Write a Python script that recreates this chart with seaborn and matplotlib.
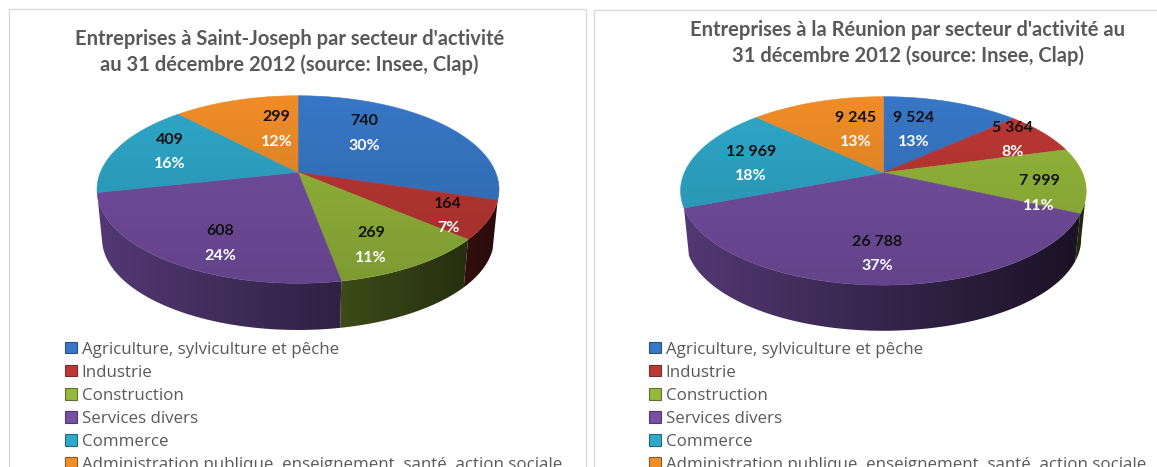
"""
Entreprises par secteur d'activite : Saint-Joseph et la Reunion, camemberts 3D
"""

import numpy as np
import matplotlib
matplotlib.use("Agg")
import matplotlib.pyplot as plt
from matplotlib.patches import Patch, Polygon, Rectangle
import seaborn as sns

secteurs = ["Agriculture, sylviculture et pêche", "Industrie", "Construction",
            "Services divers", "Commerce",
            "Administration publique, enseignement, santé, action sociale"]
couleurs = ["#3878C8", "#BE3835", "#96B93C", "#7650A4", "#2FA8CA", "#F28E28"]

titre_joseph = "Entreprises à Saint-Joseph par secteur d'activité\nau 31 décembre 2012 (source: Insee, Clap)"
valeurs_joseph = [740, 164, 269, 608, 409, 299]
textes_joseph = ["740", "164", "269", "608", "409", "299"]
pourcents_joseph = ["30%", "7%", "11%", "24%", "16%", "12%"]

titre_reunion = "Entreprises à la Réunion par secteur d'activité au\n31 décembre 2012 (source: Insee, Clap)"
valeurs_reunion = [9524, 5364, 7999, 26788, 12969, 9245]
textes_reunion = ["9 524", "5 364", "7 999", "26 788", "12 969", "9 245"]
pourcents_reunion = ["13%", "8%", "11%", "37%", "18%", "13%"]

# mise en page, en pixels de l'image
W, H = 1157, 467
pos_joseph = [(364, 121), (448, 204), (371, 233), (220, 231), (169.5, 140), (276.7, 117)]
pos_reunion = [(914, 118), (1013, 128), (1039, 181), (877, 241.7), (751, 151.7), (855.6, 118)]


def projeter(theta, cx, cy, a, b, k):
    # cercle incline vu en perspective
    u, v = np.cos(theta), np.sin(theta)
    w = 1 + k * v
    return cx + a * u / w, cy - b * v / w


def camembert(ax, valeurs, cx, cy, a, b, k, prof):
    wedges, _ = ax.pie(valeurs, colors=couleurs, startangle=90, counterclock=False, frame=True)
    for wedge in wedges:
        wedge.set_visible(False)
        angles = np.radians(np.linspace(wedge.theta1, wedge.theta2, 120))
        base = np.array(wedge.get_facecolor()[:3])
        x1, y1 = projeter(angles, cx, cy, a, b, k)

        # flanc : degrade horizontal, plus sombre vers la droite
        vus = np.sin(angles) <= -k
        if (wedge.theta2 - wedge.theta1) * vus.mean() >= 12:
            x2, y2 = projeter(angles[vus], cx, cy + prof, a * 0.975, b * 0.975, k)
            flanc = Polygon(np.column_stack([np.r_[x1[vus], x2[::-1]], np.r_[y1[vus], y2[::-1]]]),
                            facecolor="none", edgecolor="none")
            ax.add_patch(flanc)
            t = np.linspace(-1.03, 1.03, 256)
            shade = (0.46 - 0.24 * t).reshape(1, -1, 1)
            im = ax.imshow(base.reshape(1, 1, 3) * shade, aspect="auto", zorder=2, interpolation="bilinear",
                           extent=(cx - a * 1.03, cx + a * 1.03, cy + b * 1.5 + prof, cy - b * 1.2))
            im.set_clip_path(flanc)

        # dessus
        poly = np.column_stack([np.r_[cx, x1], np.r_[cy, y1]])
        ax.add_patch(Polygon(poly, facecolor=base, edgecolor=base, linewidth=0.4, zorder=3))

    t = np.radians(np.linspace(0, 360, 361))
    tout_x, tout_y = projeter(t, cx, cy, a, b, k)
    disque = Polygon(np.column_stack([tout_x, tout_y]), closed=True, facecolor="none", edgecolor="none")
    ax.add_patch(disque)
    # leger degrade vertical sur le dessus
    image = np.zeros((100, 1, 4))
    image[..., 3] = np.linspace(0, 0.17, 100).reshape(-1, 1)
    im = ax.imshow(image, extent=(cx - a - 10, cx + a + 10, cy + b * 1.3, cy - b), aspect="auto", zorder=4)
    im.set_clip_path(disque)


def etiquettes(ax, textes, pourcents, positions):
    for texte, pourcent, (x, y) in zip(textes, pourcents, positions):
        ax.text(x, y, texte, ha="center", va="center", color="#111111", fontsize=11.5,
                fontweight="bold", family="Lato", zorder=6)
        ax.text(x, y + 24.5, pourcent, ha="center", va="center", color="white", fontsize=11.5,
                fontweight="bold", family="Lato", zorder=6)


def legende(fig, x):
    poignees = [Patch(facecolor=c, edgecolor=sns.dark_palette(c, 3)[1], linewidth=0.8) for c in couleurs]
    fig.legend(poignees, secteurs, loc="upper left", bbox_to_anchor=(x / W, 1 - 341.5 / H), frameon=False,
               prop={"family": "Open Sans", "size": 12.2}, labelcolor="#595959", handlelength=0.68,
               handleheight=0.68, handletextpad=0.3, labelspacing=0.42, borderpad=0, borderaxespad=0)


def main():
    sns.set_theme(style="white")
    fig = plt.figure(figsize=(W / 100, H / 100), dpi=100, facecolor="white")
    ax = fig.add_axes([0, 0, 1, 1])

    camembert(ax, valeurs_joseph, 298, 172.3, 197.6, 90.6, 0.1834, 49.5)
    camembert(ax, valeurs_reunion, 883.4, 172.7, 199, 90.7, 0.193, 48.5)

    ax.set_aspect("auto")
    ax.set_xlim(0, W)
    ax.set_ylim(H, 0)
    ax.axis("off")

    # cadres des deux graphiques
    for x0, x1, y0 in [(9, 586, 8.5), (594, 1170, 9.5)]:
        ax.add_patch(Rectangle((x0, y0), x1 - x0, H + 20, facecolor="none", edgecolor="#D9D9D9", linewidth=1, zorder=1))

    ax.text(289.5, 52, titre_joseph, ha="center", va="center", color="#595959", fontsize=14.5,
            fontweight="bold", family="Lato", linespacing=1.35)
    ax.text(908, 43, titre_reunion, ha="center", va="center", color="#595959", fontsize=14.5,
            fontweight="bold", family="Lato", linespacing=1.35)

    etiquettes(ax, textes_joseph, pourcents_joseph, pos_joseph)
    etiquettes(ax, textes_reunion, pourcents_reunion, pos_reunion)

    legende(fig, 65)
    legende(fig, 649)

    fig.savefig("out.png", dpi=100)


if __name__ == "__main__":
    main()
